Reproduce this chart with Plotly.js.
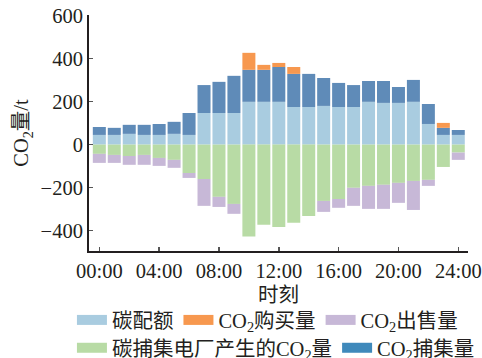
<!DOCTYPE html>
<html>
<head>
<meta charset="utf-8">
<script src="https://cdn.plot.ly/plotly-3.0.1.min.js"></script>
<style>html,body{margin:0;padding:0;background:#fff;}#chart{width:482px;height:358px;}</style>
</head>
<body>
<div id="chart"></div>
<script>
// hours 0..24
var hours = [0,1,2,3,4,5,6,7,8,9,10,11,12,13,14,15,16,17,18,19,20,21,22,23,24];
var tickVals = [0,4,8,12,16,20,24];
var tickLabels = ["00:00","04:00","08:00","12:00","16:00","20:00","24:00"];

var quota    = [45,45,50,45,45,50,45,147,147,147,199,199,199,175,175,180,175,175,199,194,194,199,96,45,45];
var capture  = [37,33,42,47,51,56,102,130,145,173,149,149,162,154,154,130,112,102,97,102,74,102,93,33,23];
var buy      = [0,0,0,0,0,0,0,0,0,0,79,23,19,32,0,0,0,0,0,0,0,0,0,23,0];
var emission = [-43,-48,-53,-48,-62,-71,-132,-160,-243,-276,-428,-373,-383,-364,-332,-262,-253,-201,-192,-187,-178,-169,-164,-104,-37];
var sell     = [-42,-37,-41,-46,-37,-37,-23,-125,-47,-46,0,0,0,0,0,-51,-41,-84,-107,-112,-93,-135,-28,0,-34];

var names = ["碳配额","CO<sub>2</sub>购买量","CO<sub>2</sub>出售量","碳捕集电厂产生的CO<sub>2</sub>量","CO<sub>2</sub>捕集量"];

var C = {quota:"#a9cce0", capture:"#5f8bb8", buy:"#f7984f", emission:"#b8dba5", sell:"#c7b8d7", captureLegend:"#3f89bb"};
var W = 0.87;
function bar(y, color){
  return {type:"bar", x:hours, y:y, width:W, marker:{color:color, line:{width:0}}, showlegend:false, hoverinfo:"y"};
}
function leg(name, color, lg){
  return {type:"scatter", mode:"lines", x:[null], y:[null], name:name, legend:lg, line:{color:color, width:14}, showlegend:true, hoverinfo:"skip"};
}
var data = [
  bar(quota, C.quota), bar(capture, C.capture), bar(buy, C.buy),
  bar(emission, C.emission), bar(sell, C.sell),
  leg(names[0], C.quota, "legend"), leg(names[1], C.buy, "legend"), leg(names[2], C.sell, "legend"),
  leg(names[3], C.emission, "legend2"), leg(names[4], C.captureLegend, "legend2")
];

var FONT = "Liberation Serif, Times New Roman, Noto Sans CJK SC, serif";
var FS = 20.5;
var legendBase = {orientation:"h", xanchor:"left", yanchor:"top", font:{size:FS}, itemwidth:30, bgcolor:"rgba(0,0,0,0)", borderwidth:0};
var layout = {
  width:482, height:358,
  margin:{l:89, r:14, t:15, b:107, autoexpand:false},
  paper_bgcolor:"#fff", plot_bgcolor:"#fff",
  barmode:"relative",
  font:{family:FONT, size:FS, color:"#231f20"},
  xaxis:{
    range:[-0.69,24.65], tickvals:tickVals, ticktext:tickLabels,
    showgrid:false, zeroline:false, showline:true, linecolor:"#231f20", linewidth:2,
    ticks:"inside", ticklen:4, tickwidth:1.5, tickcolor:"#555",
    title:{text:"时刻", font:{size:FS}, standoff:7}
  },
  yaxis:{
    range:[-495,603], tickvals:[-400,-200,0,200,400,600],
    showgrid:false, zeroline:false, showline:true, linecolor:"#231f20", linewidth:2,
    ticks:"inside", ticklen:4, tickwidth:1.5, tickcolor:"#555",
    title:{text:"CO<sub>2</sub>量/t", font:{size:FS}, standoff:6}
  },
  legend:Object.assign({}, legendBase, {x:-0.045, y:-0.208}),
  legend2:Object.assign({}, legendBase, {x:-0.045, y:-0.326}),
  showlegend:true
};
Plotly.newPlot("chart", data, layout, {staticPlot:true, displayModeBar:false});
</script>
</body>
</html>
